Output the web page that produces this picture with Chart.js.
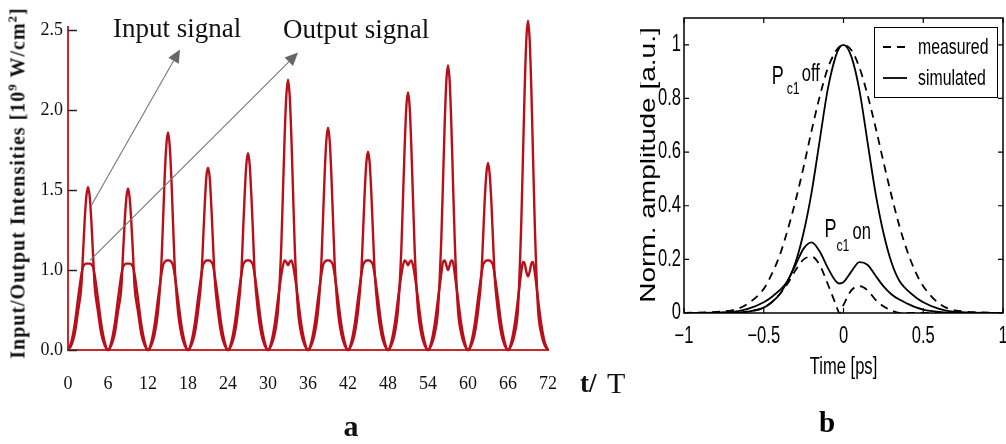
<!DOCTYPE html>
<html>
<head>
<meta charset="utf-8">
<script src="https://cdn.jsdelivr.net/npm/chart.js@4.4.0/dist/chart.umd.min.js"></script>
<style>
  html, body { margin: 0; padding: 0; background: #fff; }
  #wrap { position: relative; width: 1006px; height: 444px; overflow: hidden; }
  #chartA { position: absolute; left: 0; top: 0; }
  #chartB { position: absolute; left: 640px; top: 0; }
  .ytitle {
    position: absolute; left: 18px; top: 183px;
    transform: translate(-50%, -50%) rotate(-90deg);
    font: bold 20px "Liberation Serif", serif; letter-spacing: 1px;
    white-space: nowrap; color: #111;
  }
  .ytitle sup { font-size: 13px; vertical-align: 8px; line-height: 0; }
</style>
</head>
<body>
<div id="wrap">
  <canvas id="chartA" width="640" height="444"></canvas>
  <canvas id="chartB" width="366" height="444"></canvas>
  <div class="ytitle">Input/Output Intensities [10<sup>9</sup> W/cm<sup>2</sup>]</div>
</div>
<script>
// ---- panel a: pulse train ----
const pulseStarts = [0, 6, 12, 18, 24, 30, 36, 42, 48, 54, 60, 66];
const pulseOffsets = [0, 0.5, 1, 1.5, 2, 2.25, 2.5, 2.75, 3, 3.25, 3.5, 3.75, 4, 4.5, 5, 5.5];
const inputPulses = [
  [0.50, 0.53, 0.60, 0.74, 0.90, 1.10, 1.31, 1.46, 1.52, 1.46, 1.31, 1.10, 0.90, 0.74, 0.60, 0.53],
  [0.50, 0.53, 0.60, 0.74, 0.89, 1.10, 1.30, 1.45, 1.51, 1.45, 1.30, 1.10, 0.89, 0.74, 0.60, 0.53],
  [0.50, 0.53, 0.60, 0.74, 1.03, 1.30, 1.58, 1.78, 1.86, 1.78, 1.58, 1.30, 1.03, 0.74, 0.60, 0.53],
  [0.50, 0.53, 0.60, 0.74, 0.95, 1.17, 1.40, 1.58, 1.64, 1.58, 1.40, 1.17, 0.95, 0.74, 0.60, 0.53],
  [0.50, 0.53, 0.60, 0.74, 0.98, 1.23, 1.47, 1.66, 1.73, 1.66, 1.47, 1.23, 0.98, 0.74, 0.60, 0.53],
  [0.50, 0.53, 0.60, 0.75, 1.16, 1.50, 1.84, 2.09, 2.19, 2.09, 1.84, 1.50, 1.16, 0.75, 0.60, 0.53],
  [0.50, 0.53, 0.60, 0.74, 1.04, 1.32, 1.60, 1.81, 1.89, 1.81, 1.60, 1.32, 1.04, 0.74, 0.60, 0.53],
  [0.50, 0.53, 0.60, 0.74, 0.99, 1.23, 1.48, 1.67, 1.74, 1.67, 1.48, 1.23, 0.99, 0.74, 0.60, 0.53],
  [0.50, 0.53, 0.60, 0.75, 1.13, 1.45, 1.77, 2.02, 2.11, 2.02, 1.77, 1.45, 1.13, 0.75, 0.60, 0.53],
  [0.50, 0.53, 0.60, 0.75, 1.20, 1.55, 1.91, 2.18, 2.28, 2.18, 1.91, 1.55, 1.20, 0.75, 0.60, 0.53],
  [0.50, 0.53, 0.60, 0.74, 0.96, 1.19, 1.43, 1.60, 1.67, 1.60, 1.43, 1.19, 0.96, 0.74, 0.60, 0.53],
  [0.50, 0.53, 0.60, 0.76, 1.31, 1.72, 2.13, 2.44, 2.56, 2.44, 2.13, 1.72, 1.31, 0.76, 0.60, 0.53]
];
const outputPulses = [
  [0.50, 0.55, 0.66, 0.82, 0.97, 1.02, 1.035, 1.04, 1.04, 1.04, 1.035, 1.02, 0.97, 0.82, 0.66, 0.55],
  [0.50, 0.55, 0.66, 0.82, 0.97, 1.02, 1.035, 1.04, 1.04, 1.04, 1.035, 1.02, 0.97, 0.82, 0.66, 0.55],
  [0.50, 0.55, 0.66, 0.82, 0.97, 1.03, 1.05, 1.06, 1.06, 1.06, 1.05, 1.03, 0.97, 0.82, 0.66, 0.55],
  [0.50, 0.55, 0.66, 0.82, 0.97, 1.03, 1.05, 1.06, 1.06, 1.06, 1.05, 1.03, 0.97, 0.82, 0.66, 0.55],
  [0.50, 0.55, 0.66, 0.82, 0.97, 1.03, 1.05, 1.06, 1.06, 1.06, 1.05, 1.03, 0.97, 0.82, 0.66, 0.55],
  [0.50, 0.55, 0.66, 0.82, 0.97, 1.03, 1.06, 1.05, 1.03, 1.05, 1.06, 1.03, 0.97, 0.82, 0.66, 0.55],
  [0.50, 0.55, 0.66, 0.82, 0.97, 1.03, 1.05, 1.06, 1.06, 1.06, 1.05, 1.03, 0.97, 0.82, 0.66, 0.55],
  [0.50, 0.55, 0.66, 0.82, 0.97, 1.03, 1.05, 1.06, 1.06, 1.06, 1.05, 1.03, 0.97, 0.82, 0.66, 0.55],
  [0.50, 0.55, 0.66, 0.82, 0.97, 1.03, 1.06, 1.05, 1.03, 1.05, 1.06, 1.03, 0.97, 0.82, 0.66, 0.55],
  [0.50, 0.55, 0.66, 0.82, 0.98, 1.05, 1.06, 1.03, 1.00, 1.03, 1.06, 1.05, 0.98, 0.82, 0.66, 0.55],
  [0.50, 0.55, 0.66, 0.82, 0.97, 1.03, 1.05, 1.06, 1.06, 1.06, 1.05, 1.03, 0.97, 0.82, 0.66, 0.55],
  [0.50, 0.55, 0.66, 0.82, 0.99, 1.05, 1.04, 0.99, 0.96, 0.99, 1.04, 1.05, 0.99, 0.82, 0.66, 0.55]
];
const trainEnd = [72, 0.50];
const xTicksA = [0, 6, 12, 18, 24, 30, 36, 42, 48, 54, 60, 66, 72];
const yTicksA = [0.5, 1.0, 1.5, 2.0, 2.5];
const yTickLabelsA = ['0.0', '1.0', '1.5', '2.0', '2.5'];
const arrowsA = [
  { from: [3.45, 1.40], to: [16.8, 2.38] },
  { from: [3.3, 1.06], to: [34.5, 2.36] }
];

// ---- panel b: pulse shapes ----
const timePs = [-1, -0.7, -0.6, -0.5, -0.45, -0.4, -0.35, -0.3, -0.25, -0.2, -0.15, -0.1, -0.05, -0.025, 0,
  0.05, 0.1, 0.15, 0.2, 0.25, 0.3, 0.35, 0.4, 0.45, 0.5, 0.6, 0.7, 1];
const measuredOff = [0, 0.01, 0.035, 0.09, 0.145, 0.215, 0.31, 0.42, 0.545, 0.68, 0.805, 0.91, 0.975, 0.993, 1.0,
  0.98, 0.915, 0.815, 0.695, 0.565, 0.44, 0.325, 0.23, 0.155, 0.1, 0.035, 0.01, 0];
const simulatedOff = [0, 0.004, 0.015, 0.04, 0.06, 0.085, 0.12, 0.19, 0.30, 0.45, 0.64, 0.83, 0.955, 0.99, 1.0,
  0.955, 0.83, 0.64, 0.45, 0.30, 0.19, 0.12, 0.085, 0.06, 0.04, 0.015, 0.004, 0];
const simulatedOn = [0, 0, 0.005, 0.02, 0.04, 0.07, 0.12, 0.18, 0.24, 0.263, 0.23, 0.17, 0.12, 0.11, 0.115,
  0.155, 0.19, 0.18, 0.14, 0.10, 0.07, 0.05, 0.035, 0.022, 0.013, 0.004, 0, 0];
const measuredOn = [0, 0, 0.005, 0.02, 0.04, 0.07, 0.11, 0.16, 0.20, 0.21, 0.18, 0.11, 0.035, 0, 0.03,
  0.085, 0.10, 0.085, 0.05, 0.025, 0.01, 0, 0, 0, 0, 0, 0, 0];
const xTicksB = [-1, -0.5, 0, 0.5, 1];
const xTickLabelsB = ['\u22121', '\u22120.5', '0', '0.5', '1'];
const yTicksB = [0, 0.2, 0.4, 0.6, 0.8, 1];
const yTickLabelsB = ['0', '0.2', '0.4', '0.6', '0.8', '1'];

const serif = "'Liberation Serif', 'Times New Roman', serif";
const sans = "'Liberation Sans', Arial, sans-serif";
const squeeze = 0.72;
const red = '#b8101a';
const axisRed = '#d02828';

function pulsePoints(pulses) {
  const pts = [];
  pulses.forEach((vals, k) => {
    vals.forEach((v, i) => pts.push({ x: pulseStarts[k] + pulseOffsets[i], y: v }));
  });
  pts.push({ x: trainEnd[0], y: trainEnd[1] });
  return pts;
}

function drawArrow(ctx, x1, y1, x2, y2) {
  const ang = Math.atan2(y2 - y1, x2 - x1);
  const head = 13, half = 6;
  const bx = x2 - head * Math.cos(ang), by = y2 - head * Math.sin(ang);
  ctx.strokeStyle = '#777';
  ctx.lineWidth = 1.1;
  ctx.beginPath();
  ctx.moveTo(x1, y1);
  ctx.lineTo(bx, by);
  ctx.stroke();
  ctx.fillStyle = '#666';
  ctx.beginPath();
  ctx.moveTo(x2, y2);
  ctx.lineTo(bx + half * Math.sin(ang), by - half * Math.cos(ang));
  ctx.lineTo(bx - half * Math.sin(ang), by + half * Math.cos(ang));
  ctx.closePath();
  ctx.fill();
}

// narrow sans text (the panel b lettering is condensed)
function narrowText(ctx, text, x, y, size, align) {
  ctx.save();
  ctx.translate(x, y);
  ctx.scale(squeeze, 1);
  ctx.font = size + 'px ' + sans;
  ctx.textAlign = align || 'left';
  ctx.fillText(text, 0, 0);
  ctx.restore();
}

const annotateA = {
  id: 'annotateA',
  afterDatasetsDraw(chart) {
    const { ctx, chartArea, scales: { x, y } } = chart;
    ctx.save();
    ctx.strokeStyle = '#222';
    ctx.lineWidth = 1.5;
    yTicksA.forEach(v => {
      const py = Math.round(y.getPixelForValue(v)) + 0.5;
      ctx.beginPath();
      ctx.moveTo(chartArea.left, py);
      ctx.lineTo(chartArea.left + 9, py);
      ctx.stroke();
    });
    arrowsA.forEach(a => drawArrow(ctx,
      x.getPixelForValue(a.from[0]), y.getPixelForValue(a.from[1]),
      x.getPixelForValue(a.to[0]), y.getPixelForValue(a.to[1])));

    ctx.fillStyle = '#111';
    ctx.textBaseline = 'alphabetic';
    ctx.textAlign = 'left';
    ctx.font = '27px ' + serif;
    ctx.fillText('Input signal', 113, 37);
    ctx.fillText('Output signal', 283, 38);
    ctx.font = 'bold 27px ' + serif;
    ctx.fillText('t/', 580, 392);
    ctx.font = '30px ' + serif;
    ctx.fillText('T', 607, 393);
    ctx.font = 'bold 30px ' + serif;
    ctx.textAlign = 'center';
    ctx.fillText('a', 351, 436);
    ctx.restore();
  }
};

new Chart(document.getElementById('chartA'), {
  type: 'line',
  data: {
    datasets: [
      { label: 'Input signal', data: pulsePoints(inputPulses), borderColor: red, borderWidth: 2.4,
        pointRadius: 0, cubicInterpolationMode: 'monotone', clip: false },
      { label: 'Output signal', data: pulsePoints(outputPulses), borderColor: red, borderWidth: 2.4,
        pointRadius: 0, cubicInterpolationMode: 'monotone', clip: false }
    ]
  },
  options: {
    responsive: false,
    animation: false,
    layout: { padding: { top: 27, right: 92, left: 0, bottom: 0 } },
    plugins: { legend: { display: false }, tooltip: { enabled: false } },
    scales: {
      x: {
        type: 'linear', min: 0, max: 72,
        afterBuildTicks: s => { s.ticks = xTicksA.map(v => ({ value: v })); },
        ticks: { font: { family: serif, size: 18 }, color: '#111', padding: 23, maxRotation: 0, autoSkip: false },
        grid: { display: false, drawTicks: false },
        border: { color: axisRed, width: 2 },
        afterFit: s => { s.height = 94; s.paddingLeft = 0; s.paddingRight = 0; }
      },
      y: {
        type: 'linear', min: 0.5, max: 2.52,
        afterBuildTicks: s => { s.ticks = yTicksA.map(v => ({ value: v })); },
        ticks: { font: { family: serif, size: 18 }, color: '#111', padding: 5,
          callback: (v, i) => yTickLabelsA[i] },
        grid: { display: false, drawTicks: false },
        border: { color: axisRed, width: 2 },
        afterFit: s => { s.width = 68; s.paddingTop = 0; s.paddingBottom = 0; }
      }
    }
  },
  plugins: [annotateA]
});

// ---- panel b ----
function seriesPoints(vals) {
  return timePs.map((t, i) => ({ x: t, y: vals[i] }));
}

const frameB = {
  id: 'frameB',
  afterDatasetsDraw(chart) {
    const { ctx, chartArea: ca, scales: { x, y } } = chart;
    ctx.save();
    ctx.strokeStyle = '#000';
    ctx.lineWidth = 1.5;
    ctx.strokeRect(ca.left, ca.top, ca.right - ca.left, ca.bottom - ca.top);
    ctx.lineWidth = 1.2;
    xTicksB.forEach(v => {
      const px = x.getPixelForValue(v);
      ctx.beginPath();
      ctx.moveTo(px, ca.bottom); ctx.lineTo(px, ca.bottom - 5);
      ctx.moveTo(px, ca.top); ctx.lineTo(px, ca.top + 5);
      ctx.stroke();
    });
    yTicksB.forEach(v => {
      const py = y.getPixelForValue(v);
      ctx.beginPath();
      ctx.moveTo(ca.left, py); ctx.lineTo(ca.left + 5, py);
      ctx.moveTo(ca.right, py); ctx.lineTo(ca.right - 5, py);
      ctx.stroke();
    });

    // tick labels
    ctx.fillStyle = '#000';
    ctx.textBaseline = 'middle';
    xTicksB.forEach((v, i) => narrowText(ctx, xTickLabelsB[i], x.getPixelForValue(v), ca.bottom + 24, 23, 'center'));
    yTicksB.forEach((v, i) => narrowText(ctx, yTickLabelsB[i], ca.left - 3, y.getPixelForValue(v), 23, 'right'));

    // legend box
    const lx = ca.right - 129, ly = ca.top + 9, lw = 123, lh = 70;
    ctx.fillStyle = '#fff';
    ctx.fillRect(lx, ly, lw, lh);
    ctx.lineWidth = 1;
    ctx.strokeRect(lx + 0.5, ly + 0.5, lw, lh);
    chart.data.datasets.slice(0, 2).forEach((ds, i) => {
      const yy = ly + 20 + i * 31;
      ctx.lineWidth = 1.8;
      ctx.setLineDash(ds.borderDash || []);
      ctx.beginPath();
      ctx.moveTo(lx + 9, yy); ctx.lineTo(lx + 33, yy);
      ctx.stroke();
      ctx.setLineDash([]);
      ctx.fillStyle = '#000';
      narrowText(ctx, ds.label, lx + 44, yy + 1, 22, 'left');
    });

    // curve labels
    ctx.fillStyle = '#000';
    narrowText(ctx, 'P', x.getPixelForValue(-0.45), y.getPixelForValue(0.88), 25);
    narrowText(ctx, 'off', x.getPixelForValue(-0.262), y.getPixelForValue(0.89), 23);
    narrowText(ctx, 'P', x.getPixelForValue(-0.119), y.getPixelForValue(0.31), 25);
    narrowText(ctx, 'on', x.getPixelForValue(0.056), y.getPixelForValue(0.30), 23);
    narrowText(ctx, 'c1', x.getPixelForValue(-0.356), y.getPixelForValue(0.835), 17);
    narrowText(ctx, 'c1', x.getPixelForValue(-0.044), y.getPixelForValue(0.25), 17);

    // axis titles and panel letter
    narrowText(ctx, 'Time [ps]', x.getPixelForValue(0), 368, 23, 'center');
    ctx.save();
    ctx.translate(9, 165);
    ctx.rotate(-Math.PI / 2);
    ctx.scale(1, 0.82);
    ctx.font = '28px ' + sans;
    ctx.textAlign = 'center';
    ctx.fillText('Norm. amplitude [a.u.]', 0, 0);
    ctx.restore();
    ctx.font = 'bold 29px ' + serif;
    ctx.textAlign = 'center';
    ctx.textBaseline = 'alphabetic';
    ctx.fillText('b', 187, 432);
    ctx.restore();
  }
};

new Chart(document.getElementById('chartB'), {
  type: 'line',
  data: {
    datasets: [
      { label: 'measured', data: seriesPoints(measuredOff), borderColor: '#000', borderWidth: 1.8,
        borderDash: [8, 6], pointRadius: 0, cubicInterpolationMode: 'monotone' },
      { label: 'simulated', data: seriesPoints(simulatedOff), borderColor: '#000', borderWidth: 1.8,
        pointRadius: 0, cubicInterpolationMode: 'monotone' },
      { label: 'measured (Pc1 on)', data: seriesPoints(measuredOn), borderColor: '#000', borderWidth: 1.8,
        borderDash: [8, 6], pointRadius: 0, cubicInterpolationMode: 'monotone' },
      { label: 'simulated (Pc1 on)', data: seriesPoints(simulatedOn), borderColor: '#000', borderWidth: 1.8,
        pointRadius: 0, cubicInterpolationMode: 'monotone' }
    ]
  },
  options: {
    responsive: false,
    animation: false,
    layout: { padding: { top: 18, right: 3, left: 0, bottom: 0 } },
    plugins: { legend: { display: false }, tooltip: { enabled: false } },
    scales: {
      x: {
        type: 'linear', min: -1, max: 1,
        afterBuildTicks: s => { s.ticks = xTicksB.map(v => ({ value: v })); },
        ticks: { display: false },
        grid: { display: false, drawTicks: false },
        border: { display: false },
        afterFit: s => { s.height = 131; s.paddingLeft = 0; s.paddingRight = 0; }
      },
      y: {
        type: 'linear', min: 0, max: 1.1,
        afterBuildTicks: s => { s.ticks = yTicksB.map(v => ({ value: v })); },
        ticks: { display: false },
        grid: { display: false, drawTicks: false },
        border: { display: false },
        afterFit: s => { s.width = 44; s.paddingTop = 0; s.paddingBottom = 0; }
      }
    }
  },
  plugins: [frameB]
});
</script>
</body>
</html>
